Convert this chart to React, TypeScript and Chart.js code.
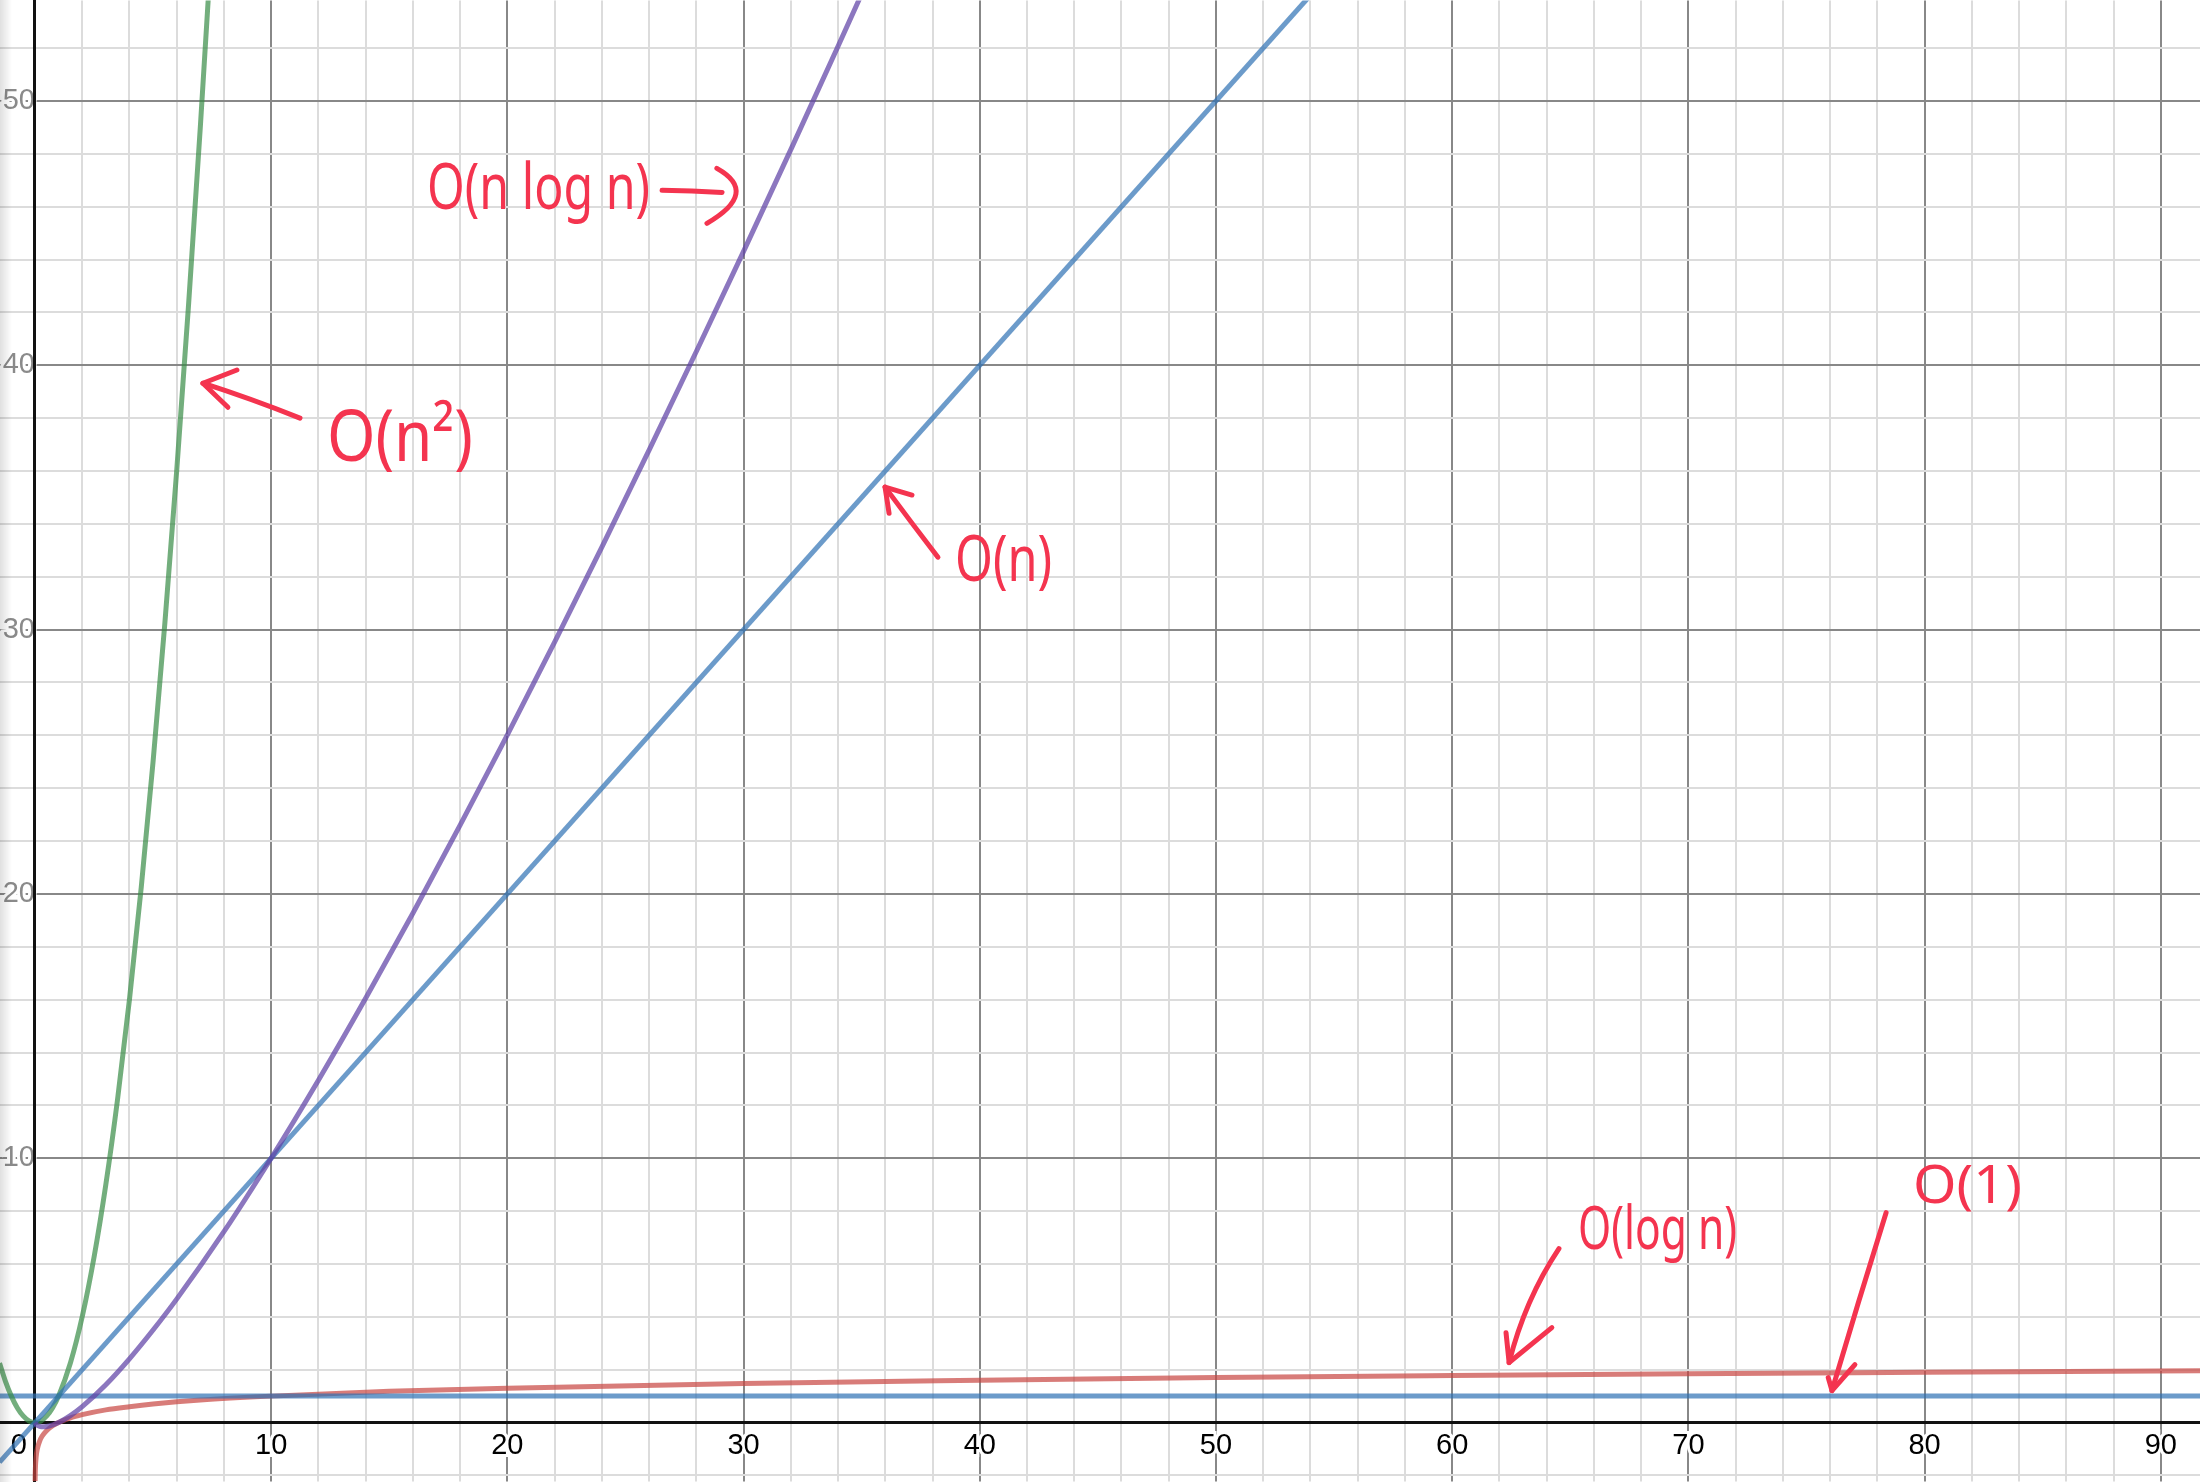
import React, { useEffect, useRef } from 'react';
import { Chart, registerables } from 'chart.js';

Chart.register(...registerables);

// ---- axis ranges (data units) ----
const X_MIN = -1.48;
const X_MAX = 91.66;
const Y_MIN = -2.23;
const Y_MAX = 53.8;

// ---- tick labels ----
const xLabelValues = [0, 10, 20, 30, 40, 50, 60, 70, 80, 90];
const yLabelValues = [10, 20, 30, 40, 50];

// ---- series: O(n^2) ----
const quadX = [-1.5, -1.25, -1, -0.75, -0.5, -0.25, 0, 0.25, 0.5, 0.75, 1, 1.5, 2, 2.5, 3, 3.5, 4, 4.5, 5, 5.5, 6, 6.5, 7, 7.5];
const quadY = [2.25, 1.56, 1, 0.56, 0.25, 0.06, 0, 0.06, 0.25, 0.56, 1, 2.25, 4, 6.25, 9, 12.25, 16, 20.25, 25, 30.25, 36, 42.25, 49, 56.25];

// ---- series: O(n log n) ----
const nlognX = [0, 0.05, 0.2, 0.37, 0.6, 1, 1.5, 2, 3, 4, 5, 6, 8, 10, 12, 14, 16, 18, 20, 22, 24, 26, 28, 30, 32, 34, 36];
const nlognY = [0, -0.07, -0.14, -0.16, -0.13, 0, 0.26, 0.6, 1.43, 2.41, 3.5, 4.67, 7.22, 10, 12.95, 16.05, 19.27, 22.6, 26.02, 29.53, 33.12, 36.79, 40.52, 44.31, 48.16, 52.07, 56.03];

// ---- series: O(n) ----
const linX = [-1.5, 60];
const linY = [-1.5, 60];

// ---- series: O(1) ----
const constX = [-1.5, 92];
const constY = [1, 1];

// ---- series: O(log n) ----
const logX = [0.006, 0.01, 0.02, 0.05, 0.1, 0.2, 0.3, 0.5, 0.75, 1, 1.5, 2, 3, 4, 5, 7, 10, 15, 20, 30, 40, 50, 60, 70, 80, 92];
const logY = [-2.22, -2, -1.7, -1.3, -1, -0.7, -0.52, -0.3, -0.12, 0, 0.18, 0.3, 0.48, 0.6, 0.7, 0.85, 1, 1.18, 1.3, 1.48, 1.6, 1.7, 1.78, 1.85, 1.9, 1.96];

// ---- handwritten notes (anchors in data units) ----
const noteTexts = ['O(n log n)', 'O(n²)', 'O(n)', 'O(log n)', 'O(1)'];
const noteX = [16.6, 12.36, 38.95, 65.33, 79.51];
const noteY = [46.6, 37.16, 32.51, 7.2, 8.85];
const noteW = [9.44, 6.18, 4.11, 6.73, 4.61];
const noteSize = [64, 72, 64, 60, 52];

// arrows: shaft [start, control, end], head [barb1, tip, barb2] (data units)
const arrowShafts: number[][][] = [
  [[26.55, 46.62], [27.8, 46.6], [29.09, 46.54]],
  [[11.22, 38.0], [9.1, 38.75], [7.11, 39.32]],
  [[38.23, 32.74], [37.1, 34.05], [35.99, 35.39]],
  [[64.52, 6.58], [63.08, 4.65], [62.41, 2.27]],
  [[78.37, 7.94], [77.2, 4.6], [76.08, 1.21]],
];
const arrowHeads: number[][][] = [
  [[28.87, 47.45], [30.69, 46.54], [28.45, 45.37]],
  [[8.55, 39.82], [7.11, 39.32], [8.17, 38.41]],
  [[37.13, 35.09], [35.99, 35.39], [36.16, 34.4]],
  [[64.22, 3.59], [62.41, 2.27], [62.28, 3.4]],
  [[77.05, 2.19], [76.08, 1.21], [75.92, 1.7]],
];
// first arrow head is a curved ")" (quadratic); the rest are chevrons
const headCurved = [true, false, false, false, false];

const FONT = '"Liberation Sans", Arial, sans-serif';
const NOTE_RED = '#f4344f';

const pts = (xs: number[], ys: number[]) => xs.map((x, i) => ({ x, y: ys[i] }));

const overlayPlugin = {
  id: 'overlay',
  afterDraw(chart: any) {
    const { ctx, scales } = chart;
    const sx = scales.x;
    const sy = scales.y;
    const px = (p: number[]) => [sx.getPixelForValue(p[0]), sy.getPixelForValue(p[1])];

    ctx.save();
    ctx.strokeStyle = NOTE_RED;
    ctx.fillStyle = NOTE_RED;
    ctx.lineWidth = 5;
    ctx.lineCap = 'round';
    ctx.lineJoin = 'round';

    // notes
    noteTexts.forEach((t, i) => {
      ctx.save();
      ctx.font = `400 ${noteSize[i]}px "Noto Sans", sans-serif`;
      ctx.textAlign = 'left';
      ctx.textBaseline = 'middle';
      const w = ctx.measureText(t).width;
      const [x0, y0] = px([noteX[i], noteY[i]]);
      const target = sx.getPixelForValue(noteX[i] + noteW[i]) - x0;
      ctx.translate(x0, y0);
      ctx.scale(target / w, 1);
      ctx.fillText(t, 0, 0);
      ctx.restore();
    });

    // arrows
    arrowShafts.forEach((s, i) => {
      const [a, c, b] = s.map(px);
      ctx.beginPath();
      ctx.moveTo(a[0], a[1]);
      ctx.quadraticCurveTo(c[0], c[1], b[0], b[1]);
      ctx.stroke();
      const [h1, h2, h3] = arrowHeads[i].map(px);
      ctx.beginPath();
      ctx.moveTo(h1[0], h1[1]);
      if (headCurved[i]) {
        ctx.quadraticCurveTo(h2[0], h2[1], h3[0], h3[1]);
      } else {
        ctx.lineTo(h2[0], h2[1]);
        ctx.lineTo(h3[0], h3[1]);
      }
      ctx.stroke();
    });
    ctx.restore();

    // left edge shadow
    ctx.save();
    const g = ctx.createLinearGradient(0, 0, 12, 0);
    g.addColorStop(0, 'rgba(0,0,0,0.12)');
    g.addColorStop(1, 'rgba(0,0,0,0)');
    ctx.fillStyle = g;
    ctx.fillRect(0, 0, 12, chart.height);
    ctx.restore();
  },
};

const gridColor = (v: number) => (Math.abs(v % 10) < 1e-9 ? '#888888' : '#dcdcdc');

export default function App() {
  const ref = useRef<HTMLCanvasElement>(null);

  useEffect(() => {
    document.body.style.margin = '0';
    const canvas = ref.current;
    if (!canvas) return;

    const line = (data: any, color: string) => ({
      data,
      showLine: true,
      borderColor: color,
      backgroundColor: color,
      borderWidth: 5,
      pointRadius: 0,
      pointHoverRadius: 0,
      fill: false,
      cubicInterpolationMode: 'monotone',
    });

    const chart = new Chart(canvas, {
      type: 'scatter',
      data: {
        datasets: [
          line(pts(nlognX, nlognY), 'rgba(96,66,166,0.72)'),
          line(pts(linX, linY), 'rgba(45,112,179,0.7)'),
          line(pts(quadX, quadY), 'rgba(56,140,70,0.7)'),
          line(pts(constX, constY), 'rgba(45,112,179,0.7)'),
          line(pts(logX, logY), 'rgba(199,68,64,0.7)'),
        ] as any,
      },
      options: {
        animation: false,
        responsive: false,
        maintainAspectRatio: false,
        devicePixelRatio: 1,
        events: [],
        layout: { padding: 0 },
        plugins: {
          legend: { display: false },
          tooltip: { enabled: false },
          title: { display: false },
        },
        scales: {
          x: {
            type: 'linear',
            min: X_MIN,
            max: X_MAX,
            position: { y: 0 } as any,
            grid: {
              color: (c: any) => gridColor(c.tick ? c.tick.value : 1),
              lineWidth: (c: any) => (c.tick && c.tick.value === 0 ? 0 : 2),
              drawTicks: true,
              tickLength: 6,
              tickWidth: 0,
              tickColor: 'rgba(0,0,0,0)',
            },
            border: { display: true, color: '#111111', width: 3 },
            ticks: {
              stepSize: 2,
              includeBounds: false,
              autoSkip: false,
              maxRotation: 0,
              minRotation: 0,
              padding: 0,
              color: '#000000',
              font: { family: FONT, size: 29 },
              textStrokeColor: '#ffffff',
              textStrokeWidth: 6,
              callback: (v: any) => {
                const n = Number(v);
                if (!xLabelValues.includes(n)) return '';
                return n === 0 ? '0    ' : String(n);
              },
            } as any,
          },
          y: {
            type: 'linear',
            min: Y_MIN,
            max: Y_MAX,
            position: { x: 0 } as any,
            grid: {
              color: (c: any) => gridColor(c.tick ? c.tick.value : 1),
              lineWidth: (c: any) => (c.tick && c.tick.value === 0 ? 0 : 2),
              drawTicks: false,
            },
            border: { display: true, color: '#111111', width: 3 },
            ticks: {
              stepSize: 2,
              includeBounds: false,
              autoSkip: false,
              padding: 0,
              z: -0.5,
              color: '#8a8a8a',
              font: { family: FONT, size: 29, lineHeight: '1px' },
              textStrokeColor: '#ffffff',
              textStrokeWidth: 6,
              callback: (v: any) => {
                const n = Number(v);
                return yLabelValues.includes(n) ? String(n) : '';
              },
            } as any,
          },
        },
      },
      plugins: [overlayPlugin],
    });

    return () => chart.destroy();
  }, []);

  return (
    <div style={{ position: 'fixed', left: 0, top: 0, width: 2200, height: 1482, background: '#ffffff' }}>
      <canvas ref={ref} width={2200} height={1482} style={{ width: 2200, height: 1482, display: 'block' }} />
    </div>
  );
}
